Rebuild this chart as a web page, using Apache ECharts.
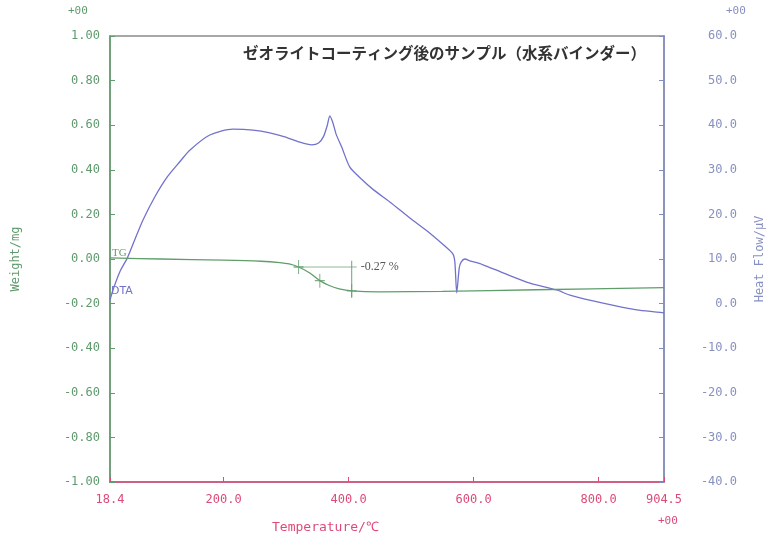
<!DOCTYPE html>
<html><head><meta charset="utf-8">
<script src="https://cdn.jsdelivr.net/npm/echarts@6/dist/echarts.min.js"></script>
<style>html,body{margin:0;padding:0;background:#fff}#c{width:768px;height:545px}</style>
</head><body><div id="c"></div>
<script>
// ---- data ----
const titleText = 'ゼオライトコーティング後のサンプル（水系バインダー）';
const xTickValues = [18.4, 200, 400, 600, 800, 904.5];
const xRange = [18.4, 904.5];
const weightRange = [-1, 1];
const heatRange = [-40, 60];

const dtaTemp = [18.4, 23, 34, 46, 58, 71, 90, 110, 130, 146, 178, 215, 247, 274, 298, 322, 341, 352, 360, 366, 370, 375, 380, 389, 402, 420, 440, 466, 498, 530, 554, 567, 570, 573, 577, 580, 586, 594, 615, 647, 690, 733, 754, 807, 861, 893, 904.5];
const dtaHeat = [0.8, 3.0, 7.1, 10.2, 14.3, 18.7, 23.9, 28.4, 31.8, 34.4, 37.8, 39.1, 38.9, 38.3, 37.4, 36.2, 35.6, 36.0, 37.5, 40.0, 42.1, 40.5, 38.0, 35.1, 30.6, 28.0, 25.5, 22.8, 19.2, 15.8, 12.9, 11.1, 9.3, 2.4, 8.0, 9.3, 10.0, 9.6, 8.7, 6.9, 4.6, 3.05, 1.9, 0.1, -1.4, -1.9, -2.1];

const tgTemp = [18.4, 100, 200, 260, 290, 305, 320, 338, 354, 370, 385, 405, 450, 550, 700, 904.5];
const tgWeight = [0.005, 0.0, -0.005, -0.010, -0.016, -0.022, -0.036, -0.063, -0.097, -0.120, -0.134, -0.143, -0.147, -0.145, -0.138, -0.128];

const stepMarkTemp = [320, 354, 405];
const stepMarkWeight = [-0.036, -0.097, -0.143];
const stepRefLineTemp = [320, 413];
const stepRefLineWeight = [-0.036, -0.036];
const stepVLineTemp = [405, 405];
const stepVLineWeight = [-0.008, -0.17];
const stepLabel = '-0.27 %';

// ---- styling ----
const GREEN = '#5f9e6b', GREEN_LBL = '#5e9a6c';
const BLUE = '#7272cc', BLUE_AX = '#7f8cc6', BLUE_LBL = '#8890c2';
const RED = '#de4a78';
const MONO = 'DejaVu Sans Mono';

const zip = (a, b) => a.map((v, i) => [v, b[i]]);

const chart = echarts.init(document.getElementById('c'), null, {renderer: 'canvas'});
chart.setOption({
  animation: false,
  backgroundColor: '#fff',
  grid: {left: 110, right: 104, top: 36, bottom: 63, outerBoundsMode: 'none', containLabel: false,
    show: true, borderColor: '#8a8a8a', borderWidth: 1.5, backgroundColor: 'transparent'},
  xAxis: {
    type: 'value', min: xRange[0], max: xRange[1],
    axisLine: {show: true, onZero: false, lineStyle: {color: RED, width: 1.5}},
    axisTick: {show: true, inside: true, length: 5, customValues: xTickValues, lineStyle: {color: RED}},
    axisLabel: {customValues: xTickValues, color: RED, fontFamily: MONO, fontSize: 12, margin: 12,
      formatter: v => v.toFixed(1)},
    splitLine: {show: false}
  },
  yAxis: [{
    type: 'value', min: weightRange[0], max: weightRange[1], interval: 0.2, position: 'left',
    name: 'Weight/mg', nameLocation: 'middle', nameRotate: 90, nameGap: 88,
    nameTextStyle: {color: GREEN_LBL, fontFamily: MONO, fontSize: 12},
    axisLine: {show: true, onZero: false, lineStyle: {color: GREEN, width: 1.5}},
    axisTick: {show: true, inside: true, length: 5, lineStyle: {color: GREEN}},
    axisLabel: {color: GREEN_LBL, fontFamily: MONO, fontSize: 12, margin: 10, formatter: v => v.toFixed(2)},
    splitLine: {show: false}
  }, {
    type: 'value', min: heatRange[0], max: heatRange[1], interval: 10, position: 'right',
    name: 'Heat Flow/μV', nameLocation: 'middle', nameRotate: 90, nameGap: 90,
    nameTextStyle: {color: BLUE_LBL, fontFamily: MONO, fontSize: 12},
    axisLine: {show: true, onZero: false, lineStyle: {color: BLUE_AX, width: 1.5}},
    axisTick: {show: true, inside: true, length: 5, lineStyle: {color: BLUE_AX}},
    axisLabel: {color: BLUE_LBL, fontFamily: MONO, fontSize: 12, margin: 73, align: 'right', formatter: v => v.toFixed(1)},
    splitLine: {show: false}
  }],
  graphic: [
    {type: 'text', left: 243, top: 45, style: {text: titleText, fill: '#333', font: 'bold 15.5px "Noto Sans CJK JP"'}},
    {type: 'text', left: 68, top: 6, style: {text: '+00', fill: GREEN_LBL, font: '11px ' + MONO}},
    {type: 'text', left: 726, top: 6, style: {text: '+00', fill: BLUE_LBL, font: '11px ' + MONO}},
    {type: 'text', left: 658, top: 516, style: {text: '+00', fill: RED, font: '11px ' + MONO}},
    {type: 'text', left: 272, top: 521, style: {text: 'Temperature/℃', fill: RED, font: '13px ' + MONO}},
    {type: 'text', left: 112, top: 248, style: {text: 'TG', fill: GREEN, font: '11px "Liberation Serif"'}},
    {type: 'text', left: 111, top: 286, style: {text: 'DTA', fill: BLUE, font: '11px "DejaVu Sans"'}}
  ],
  series: [{
    name: 'DTA', type: 'line', yAxisIndex: 1, data: zip(dtaTemp, dtaHeat),
    showSymbol: false, smooth: 0.25, lineStyle: {color: BLUE, width: 1.3}, z: 3
  }, {
    name: 'TG', type: 'line', yAxisIndex: 0, data: zip(tgTemp, tgWeight),
    showSymbol: false, smooth: 0.3, lineStyle: {color: GREEN, width: 1.3}, z: 4
  }, {
    type: 'line', yAxisIndex: 0, data: zip(stepRefLineTemp, stepRefLineWeight),
    showSymbol: false, lineStyle: {color: '#8fb89a', width: 1}, z: 4,
    endLabel: {show: true, formatter: stepLabel, color: '#555', fontFamily: 'Liberation Serif', fontSize: 12, distance: 4}
  }, {
    type: 'line', yAxisIndex: 0, data: zip(stepVLineTemp, stepVLineWeight),
    showSymbol: false, lineStyle: {color: '#6aa276', width: 1}, z: 4
  }, {
    type: 'scatter', yAxisIndex: 0, data: zip(stepMarkTemp, stepMarkWeight),
    symbol: 'path://M5,0L5,14M0,7L10,7', symbolSize: [10, 14], symbolKeepAspect: false,
    itemStyle: {color: 'transparent', borderColor: '#5f9e6b', borderWidth: 1.2}, z: 5
  }]
});
</script></body></html>
